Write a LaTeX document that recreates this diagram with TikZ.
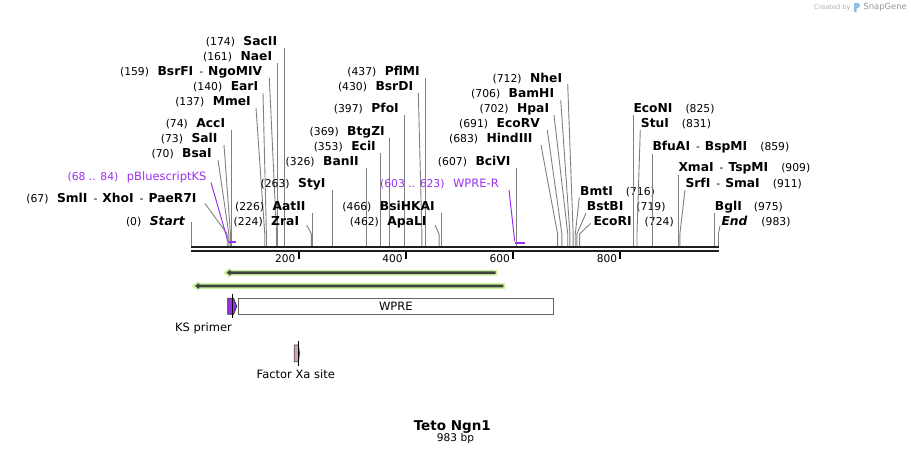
\documentclass[tikz,border=0pt]{standalone}
\usepackage{fontspec}
\setmainfont{DejaVu Sans}
\definecolor{leadgray}{RGB}{128,128,128}
\definecolor{primpurple}{RGB}{155,48,240}
\definecolor{halogreen}{RGB}{200,242,155}
\definecolor{darkline}{RGB}{64,64,64}
\definecolor{xapink}{RGB}{214,160,192}
\definecolor{sgblue}{RGB}{140,190,230}
\newcommand\bx[1]{191.3+0.5363*#1}
\newcommand\nm[1]{{\fontsize{12.3}{14}\selectfont\bfseries #1}}
\newcommand\nmi[1]{{\fontsize{12.3}{14}\selectfont\bfseries\itshape #1}}
\newcommand\dsh{\hspace{6pt}-\hspace{5pt}}
% #1 id, #2 bp, #3 anchor, #4 x, #5 y, #6 top x, #7 top y, #8 text
\newcommand\tsite[8]{%
  \node[lbl,anchor=#3] (#1) at (#4,#5) {#8};
  \coordinate (#1t) at ({#6},#7);
  \coordinate (#1b) at ({\bx{#2}},234);
  \coordinate (#1s) at ({\bx{#2}},246);
  \draw[leader] (#1t) -- (#1b) -- (#1s);}
\newcommand\garrow[6]{% id, y, halo tip, dark tip, dark tail, halo tail
  \fill[halogreen] (#3,#2) -- (#3+6.5,#2-5) -- (#3+6.5,#2-2.9) -- (#6,#2-2.9) -- (#6,#2+2.9) -- (#3+6.5,#2+2.9) -- (#3+6.5,#2+5) -- cycle;
  \fill[darkline] (#4,#2) -- (#4+4,#2-3) -- (#4+4,#2-1.3) -- (#5,#2-1.3) -- (#5,#2+1.3) -- (#4+4,#2+1.3) -- (#4+4,#2+3) -- cycle;
  \coordinate (#1) at (#4,#2);}
\begin{document}
\begin{tikzpicture}[x=1pt,y=-1pt,
  lbl/.style={inner sep=0pt,font=\fontsize{10.8}{12}\selectfont},
  leader/.style={draw=leadgray,line width=0.9pt},
  featlbl/.style={inner sep=0pt,font=\fontsize{11.5}{13}\selectfont},
  ticklbl/.style={inner sep=0pt,font=\fontsize{10.6}{12}\selectfont,anchor=base east},
  tickmark/.style={line width=2pt,black},
  backbone/.style={line width=2.4pt,draw={rgb,255:red,30;green,30;blue,30}}]
\useasboundingbox (0,0) rectangle (911,456);

% created by
\node[inner sep=0pt,anchor=west,font=\fontsize{6.6}{8}\selectfont,text={rgb,255:red,175;green,175;blue,175}] (cby) at (814,7.3) {Created by};
\fill[sgblue] (854,3) -- (858,3) .. controls (860.5,3) and (860.5,8) .. (858,8) -- (856.5,8) -- (856.5,12) -- (854,12) -- cycle;
\node[inner sep=0pt,anchor=west,font=\fontsize{8.4}{10}\selectfont,text={rgb,255:red,150;green,150;blue,150}] (sg) at (863.3,7.3) {SnapGene};

% backbone
\coordinate (bbL1) at (191,247.2); \coordinate (bbR1) at (719.3,247.2);
\coordinate (bbL2) at (191,251.2); \coordinate (bbR2) at (719.3,251.2);
\draw[backbone] (bbL1) -- (bbR1);
\draw[backbone,line width=2.2pt] (bbL2) -- (bbR2);

% ticks
\foreach \t in {200,400,600,800}{
  \coordinate (tk\t a) at ({\bx{\t}},252.3);
  \coordinate (tk\t b) at ({\bx{\t}},259);
  \draw[tickmark] (tk\t a) -- (tk\t b);
  \node[ticklbl] (tl\t) at ({\bx{\t}-3},262.5) {\t};
}

% left labels
\tsite{SacII}{174}{base east}{277.3}{45.6}{\bx{174}}{48}{(174)\hspace{8.5pt}\nm{SacII}}
\tsite{NaeI}{161}{base east}{272.3}{60.3}{\bx{161}}{63}{(161)\hspace{8.5pt}\nm{NaeI}}
\tsite{BsrFI}{159}{base east}{262.3}{75}{269.3}{78}{(159)\hspace{8.5pt}\nm{BsrFI}\dsh\nm{NgoMIV}}
\tsite{EarI}{140}{base east}{258.3}{90}{263}{93}{(140)\hspace{8.5pt}\nm{EarI}}
\tsite{MmeI}{137}{base east}{251}{105}{256}{108}{(137)\hspace{8.5pt}\nm{MmeI}}
\tsite{AccI}{74}{base east}{225.3}{127.3}{\bx{74}}{130}{(74)\hspace{8.5pt}\nm{AccI}}
\tsite{SalI}{73}{base east}{217.7}{142.3}{224}{145}{(73)\hspace{8.5pt}\nm{SalI}}
\tsite{BsaI}{70}{base east}{212}{157.3}{218}{160}{(70)\hspace{8.5pt}\nm{BsaI}}
\tsite{SmlI}{67}{base east}{196.7}{202.3}{205}{203.5}{(67)\hspace{8.5pt}\nm{SmlI}\dsh\nm{XhoI}\dsh\nm{PaeR7I}}
\tsite{Start}{0}{base east}{185}{225}{\bx{0}}{222}{(0)\hspace{8.5pt}\nmi{Start}}
\tsite{StyI}{263}{base east}{325.7}{187.3}{\bx{263}}{190}{(263)\hspace{8.5pt}\nm{StyI}}
\tsite{AatII}{226}{base east}{305.7}{210}{\bx{226}}{213}{(226)\hspace{8.5pt}\nm{AatII}}
\tsite{ZraI}{224}{base east}{299.3}{225}{306.7}{225}{(224)\hspace{8.5pt}\nm{ZraI}}
\tsite{PflMI}{437}{base east}{420}{75}{\bx{437}}{78}{(437)\hspace{8.5pt}\nm{PflMI}}
\tsite{BsrDI}{430}{base east}{413.3}{90}{418.3}{93}{(430)\hspace{8.5pt}\nm{BsrDI}}
\tsite{PfoI}{397}{base east}{399}{112.3}{\bx{397}}{115}{(397)\hspace{8.5pt}\nm{PfoI}}
\tsite{BtgZI}{369}{base east}{385}{135}{\bx{369}}{138}{(369)\hspace{8.5pt}\nm{BtgZI}}
\tsite{EciI}{353}{base east}{376}{150}{\bx{353}}{153}{(353)\hspace{8.5pt}\nm{EciI}}
\tsite{BanII}{326}{base east}{359}{165}{\bx{326}}{168}{(326)\hspace{8.5pt}\nm{BanII}}
\tsite{BsiHKAI}{466}{base east}{435}{210}{\bx{466}}{213}{(466)\hspace{8.5pt}\nm{BsiHKAI}}
\tsite{ApaLI}{462}{base east}{426.7}{225}{435}{225}{(462)\hspace{8.5pt}\nm{ApaLI}}
\tsite{BciVI}{607}{base east}{510.7}{165}{\bx{607}}{168}{(607)\hspace{8.5pt}\nm{BciVI}}
\tsite{HindIII}{683}{base east}{532.7}{142.3}{541}{145}{(683)\hspace{8.5pt}\nm{HindIII}}
\tsite{EcoRV}{691}{base east}{540}{127.3}{547.3}{130}{(691)\hspace{8.5pt}\nm{EcoRV}}
\tsite{HpaI}{702}{base east}{549.3}{112.3}{554}{115}{(702)\hspace{8.5pt}\nm{HpaI}}
\tsite{BamHI}{706}{base east}{554.3}{97.3}{560.7}{100}{(706)\hspace{8.5pt}\nm{BamHI}}
\tsite{NheI}{712}{base east}{562.3}{82.3}{567.7}{84}{(712)\hspace{8.5pt}\nm{NheI}}

% right labels
\tsite{BmtI}{716}{base west}{580}{195.7}{579.3}{197.3}{\nm{BmtI}\hspace{13pt}(716)}
\tsite{BstBI}{719}{base west}{586.7}{210}{586}{213}{\nm{BstBI}\hspace{13pt}(719)}
\tsite{EcoRI}{724}{base west}{593.3}{225}{590.7}{223.3}{\nm{EcoRI}\hspace{13pt}(724)}
\tsite{EcoNI}{825}{base west}{633.3}{112.3}{\bx{825}}{115}{\nm{EcoNI}\hspace{13pt}(825)}
\tsite{StuI}{831}{base west}{640.7}{127.3}{640.3}{130}{\nm{StuI}\hspace{13pt}(831)}
\tsite{BfuAI}{859}{base west}{652.3}{150.7}{\bx{859}}{154}{\nm{BfuAI}\dsh\nm{BspMI}\hspace{13pt}(859)}
\tsite{XmaI}{909}{base west}{678.3}{171.7}{\bx{909}}{175}{\nm{XmaI}\dsh\nm{TspMI}\hspace{13pt}(909)}
\tsite{SrfI}{911}{base west}{685.3}{187.3}{685}{190}{\nm{SrfI}\dsh\nm{SmaI}\hspace{13pt}(911)}
\tsite{BglI}{975}{base west}{714.7}{210}{\bx{975}}{213}{\nm{BglI}\hspace{12pt}(975)}
\tsite{End}{983}{base west}{721.3}{225}{720}{225.7}{\nmi{End}\hspace{14pt}(983)}

% primer binding sites (purple)
\node[featlbl,anchor=base east,text=primpurple] (pKS) at (206.7,180) {{\fontsize{10.8}{12}\selectfont(68 .. 84)}\hspace{8.5pt}pBluescriptKS};
\coordinate (pKSt) at (211,182.5);
\coordinate (pKSa) at ({\bx{68}},242.3);
\coordinate (pKSe) at ({\bx{84}},242.3);
\coordinate (pKSb) at ({\bx{68}},240.8);
\draw[primpurple,line width=1pt] (pKSt) -- (pKSb);
\draw[primpurple,line width=1.9pt] (pKSa) -- (pKSe);

\node[featlbl,anchor=base east,text=primpurple] (wR) at (499,187.3) {{\fontsize{10.8}{12}\selectfont(603 .. 623)}\hspace{8.5pt}WPRE-R};
\coordinate (wRt) at (509,190);
\coordinate (wRa) at ({\bx{603}},242.7);
\coordinate (wRe) at ({\bx{623}},242.7);
\coordinate (wRb) at ({\bx{603}},241.2);
\draw[primpurple,line width=1pt] (wRt) -- (wRb);
\draw[primpurple,line width=1.9pt] (wRa) -- (wRe);

% green arrows
\garrow{ga1}{272.7}{223.3}{226.5}{495.7}{497.3}
\garrow{ga2}{286}{191.7}{195}{503.3}{505}

% WPRE feature
\node[draw={rgb,255:red,100;green,100;blue,100},line width=0.9pt,fill=white,minimum width=315pt,minimum height=16pt,inner sep=0pt,anchor=north west] (wpre) at (238.3,298.3) {};
\node[featlbl,anchor=base] (wpret) at (395.8,310) {WPRE};

% KS primer
\fill[primpurple,draw={rgb,255:red,50;green,50;blue,50},line width=0.8pt] (227.7,298.3) -- (233.6,298.3) -- (236.7,306.3) -- (233.6,314.3) -- (227.7,314.3) -- cycle;
\coordinate (ksA) at (232.6,294.3); \coordinate (ksB) at (232.6,318.3);
\draw[black,line width=0.8pt] (ksA) -- (ksB);
\node[featlbl,anchor=base] (kst) at (203.5,331) {KS primer};

% Factor Xa site
\fill[xapink,draw={rgb,255:red,70;green,70;blue,70},line width=0.8pt] (294.3,345) -- (298.3,345) -- (299.6,353.3) -- (298.3,361.7) -- (294.3,361.7) -- cycle;
\coordinate (xaA) at (298.3,341); \coordinate (xaB) at (298.3,365.7);
\draw[black,line width=0.8pt] (xaA) -- (xaB);
\node[featlbl,anchor=base] (xat) at (295.8,378.3) {Factor Xa site};

% title
\node[inner sep=0pt,anchor=base,font=\fontsize{13.5}{15}\selectfont\bfseries] (title) at (452.3,430) {Teto Ngn1};
\node[inner sep=0pt,anchor=base,font=\fontsize{10.6}{12}\selectfont] (bp) at (455.5,441.7) {983 bp};
\end{tikzpicture}
\end{document}
